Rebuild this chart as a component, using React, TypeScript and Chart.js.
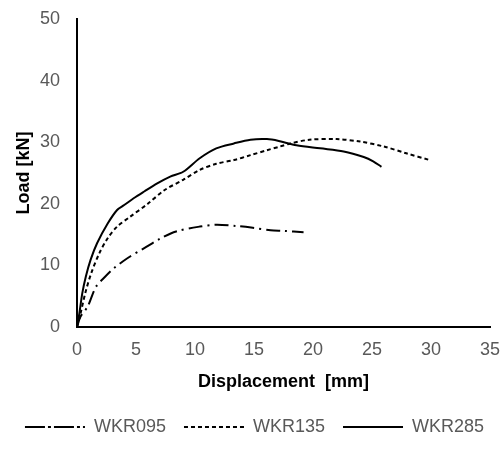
import React, { useEffect, useRef } from "react";
import { Chart, registerables } from "chart.js";

Chart.register(...registerables);

const seriesNames = ["WKR095", "WKR135", "WKR285"];

const wkr095X = [0, 0.3, 0.9, 1.6, 2.4, 3.1, 4.3, 5.7, 7.0, 8.4, 10.4, 11.8, 13.5, 14.9, 16.4, 17.5, 19.2];
const wkr095Y = [0, 1.7, 3.3, 6.5, 8.2, 9.5, 11.2, 12.8, 14.3, 15.5, 16.3, 16.6, 16.4, 16.1, 15.7, 15.6, 15.4];

const wkr135X = [0, 0.3, 0.7, 1.2, 1.9, 2.6, 3.4, 4.5, 6.0, 7.4, 9.0, 10.4, 11.8, 13.3, 14.7, 16.1, 17.2, 18.1, 19.7, 22.0, 24.0, 26.0, 27.9, 29.9];
const wkr135Y = [0, 2.2, 5.5, 8.7, 12.0, 14.4, 16.3, 17.9, 20.0, 22.2, 23.9, 25.5, 26.5, 27.1, 27.9, 28.7, 29.3, 29.8, 30.4, 30.5, 30.1, 29.3, 28.2, 27.1];

const wkr285X = [0, 0.2, 0.45, 0.75, 1.15, 1.7, 2.6, 3.4, 4.0, 4.8, 5.7, 6.8, 7.9, 9.0, 10.4, 11.8, 13.3, 14.7, 16.1, 17.1, 18.6, 20.6, 22.6, 24.3, 25.1, 25.8];
const wkr285Y = [0, 2.2, 5.5, 8.2, 10.9, 13.6, 16.8, 19.0, 19.8, 20.9, 22.0, 23.3, 24.4, 25.2, 27.4, 29.0, 29.8, 30.4, 30.5, 30.2, 29.5, 29.0, 28.5, 27.6, 26.9, 26.0];

const xTitle = "Displacement  [mm]";
const yTitle = "Load [kN]";

const plotDashes = [[14, 5, 2, 5], [4, 3], []];
const legendDashes = [[20, 3, 3, 3], [4, 3], []];

const FONT = "'Liberation Sans', Arial, sans-serif";

function toPoints(xs: number[], ys: number[]) {
  return xs.map((x, i) => ({ x, y: ys[i] }));
}

export default function App() {
  const canvasRef = useRef<HTMLCanvasElement | null>(null);

  useEffect(() => {
    const canvas = canvasRef.current;
    if (!canvas) return;
    const allData = [
      toPoints(wkr095X, wkr095Y),
      toPoints(wkr135X, wkr135Y),
      toPoints(wkr285X, wkr285Y),
    ];
    const chart = new Chart(canvas, {
      type: "line",
      data: {
        datasets: seriesNames.map((name, i) => ({
          label: name,
          data: allData[i],
          borderColor: "#000000",
          backgroundColor: "#000000",
          borderWidth: 2,
          borderDash: plotDashes[i],
          pointRadius: 0,
          fill: false,
          tension: 0.3,
          xAxisID: "x",
          yAxisID: "y",
        })),
      },
      options: {
        animation: false,
        responsive: true,
        maintainAspectRatio: false,
        events: [],
        layout: { padding: { top: 19, right: 0, bottom: 4, left: 6 } },
        plugins: {
          tooltip: { enabled: false },
          legend: {
            position: "bottom",
            labels: {
              usePointStyle: true,
              pointStyleWidth: 60,
              padding: 18,
              color: "#595959",
              font: { family: FONT, size: 18 },
              generateLabels: (ch: any) =>
                ch.data.datasets.map((ds: any, i: number) => ({
                  text: ds.label,
                  fillStyle: "#000000",
                  strokeStyle: "#000000",
                  fontColor: "#595959",
                  lineWidth: 2,
                  lineDash: legendDashes[i],
                  lineCap: "butt",
                  pointStyle: "line",
                  hidden: false,
                  datasetIndex: i,
                })),
            },
          },
        },
        scales: {
          x: {
            type: "linear",
            position: "bottom",
            min: 0,
            max: 35,
            grid: { display: false, drawTicks: true, tickLength: 12 },
            border: { display: true, color: "#000000", width: 2 },
            ticks: {
              stepSize: 5,
              padding: 0,
              color: "#595959",
              font: { family: FONT, size: 18 },
              maxRotation: 0,
            },
            title: {
              display: true,
              text: xTitle,
              color: "#000000",
              font: { family: FONT, size: 18, weight: "bold" },
              padding: { top: 0, bottom: 7 },
            },
            afterFit: (scale: any) => {
              scale.height = 73;
            },
          },
          y: {
            type: "linear",
            position: "left",
            min: 0,
            max: 50,
            grid: { display: false, drawTicks: true, tickLength: 17 },
            border: { display: true, color: "#000000", width: 2 },
            ticks: {
              stepSize: 10,
              padding: 0,
              color: "#595959",
              font: { family: FONT, size: 18 },
            },
            title: {
              display: true,
              text: yTitle,
              color: "#000000",
              font: { family: FONT, size: 18, weight: "bold" },
              padding: { top: 7, bottom: 0 },
            },
            afterFit: (scale: any) => {
              scale.width = 71;
            },
          },
          yRight: {
            type: "linear",
            position: "right",
            min: 0,
            max: 50,
            grid: { display: false, drawTicks: false },
            border: { display: false },
            ticks: { display: false, padding: 0 },
            afterFit: (scale: any) => {
              scale.width = 13;
            },
          },
        },
      },
    } as any);
    return () => {
      chart.destroy();
    };
  }, []);

  return (
    <div style={{ position: "absolute", left: 0, top: 0, width: 503, height: 450 }}>
      <canvas ref={canvasRef} />
    </div>
  );
}
